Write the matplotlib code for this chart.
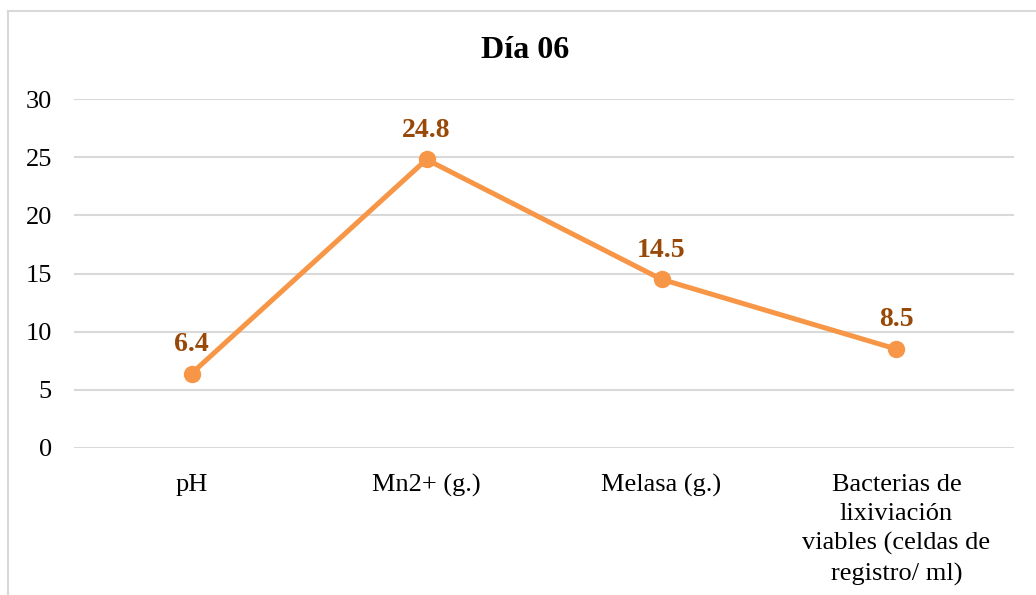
import matplotlib.pyplot as plt
from matplotlib.lines import Line2D

plt.rcParams["font.family"] = ["Liberation Serif", "DejaVu Serif"]

categories = [
    "pH",
    "Mn2+ (g.)",
    "Melasa (g.)",
    "Bacterias de\nlixiviación\nviables (celdas de\nregistro/ ml)",
]
values = [6.4, 24.8, 14.5, 8.5]
yticks = [0, 5, 10, 15, 20, 25, 30]

W, H = 1036, 595
fig = plt.figure(figsize=(W / 100, H / 100), dpi=100)
ax = fig.add_axes([74 / W, 1 - 448 / H, 940 / W, 349 / H])

line_color = "#F79646"
label_color = "#984807"
grid_color = "#D9D9D9"

x = list(range(len(categories)))
ax.plot(x, values, color=line_color, lw=3.6, marker="o", ms=11.5,
        solid_capstyle="round", zorder=3)

for xi, v in zip(x, values):
    ax.annotate(f"{v}", (xi, v), xytext=(0, 21), textcoords="offset points",
                ha="center", va="center", fontsize=20, fontweight="bold",
                color=label_color)

ax.set_xlim(-0.5, len(categories) - 0.5)
ax.set_ylim(0, 30)
ax.set_yticks(yticks)
ax.set_xticks(x)
ax.set_xticklabels(categories, fontsize=19, linespacing=1.42, va="top")
ax.tick_params(axis="y", labelsize=19, length=0, pad=16)
ax.tick_params(axis="x", length=0, pad=18.5)
ax.grid(axis="y", color=grid_color, lw=1.5)
ax.set_axisbelow(True)
for s in ax.spines.values():
    s.set_visible(False)

fig.text(525 / W, 1 - 50 / H, "Día 06", fontsize=23, fontweight="bold",
         ha="center", va="center")

# outer chart frame, left and top edges
fig.add_artist(Line2D([7.5 / W, 7.5 / W], [0, 1 - 10.5 / H],
                      transform=fig.transFigure, color=grid_color, lw=1.5))
fig.add_artist(Line2D([7.5 / W, 1], [1 - 10.5 / H, 1 - 10.5 / H],
                      transform=fig.transFigure, color=grid_color, lw=1.5))

fig.savefig("out.png", dpi=100)
